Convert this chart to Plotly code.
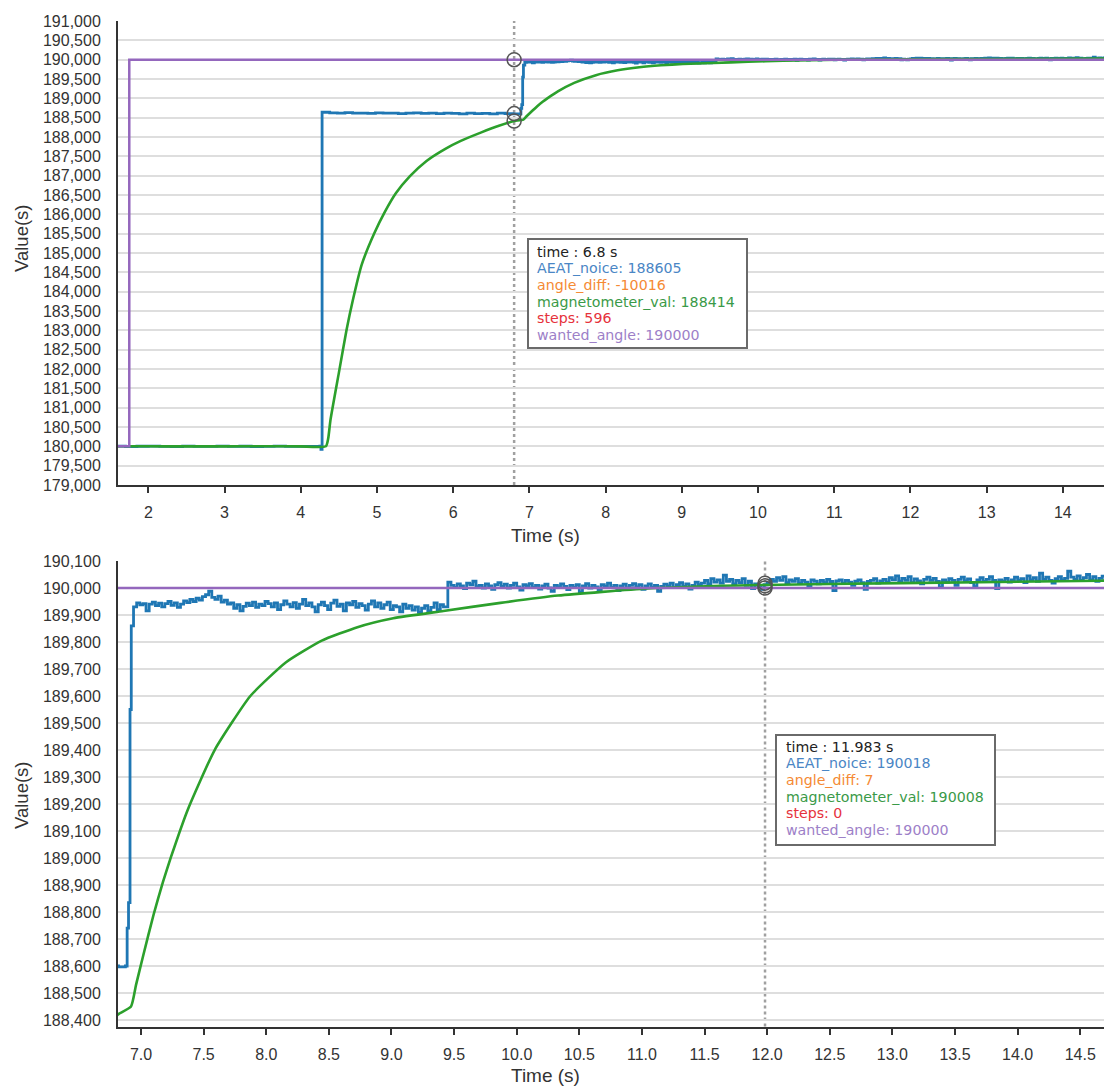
import numpy as np
import plotly.graph_objects as go

# ---------------- data ----------------
series_names = ["AEAT_noice", "angle_diff", "magnetometer_val", "steps", "wanted_angle"]

# wanted_angle (set-point step)
wanted_t = [1.55, 1.75, 14.80]
wanted_v = [180000, 190000, 190000]

# AEAT_noice (encoder reading) - segments
aeat_a_t = [1.55, 1.70, 1.85, 2.00, 2.15, 2.30, 2.45, 2.60, 2.75, 2.90, 3.05, 3.20,
            3.35, 3.50, 3.65, 3.80, 3.95, 4.10, 4.25, 4.265]
aeat_a_v = [180004, 179996, 180002, 180006, 179998, 179994, 180003, 180000, 179997,
            180005, 179999, 180002, 179995, 180001, 180004, 179998, 180000, 179996,
            180002, 179920]
aeat_b_t = [4.28, 4.38, 4.48, 4.58, 4.68, 4.78, 4.88, 4.98, 5.08, 5.18, 5.28, 5.38,
            5.48, 5.58, 5.68, 5.78, 5.88, 5.98, 6.08, 6.18, 6.28, 6.38, 6.48, 6.58,
            6.68, 6.78, 6.82, 6.875, 6.889, 6.900, 6.912, 6.922]
aeat_b_v = [188640, 188625, 188620, 188630, 188615, 188620, 188610, 188625, 188615,
            188620, 188605, 188615, 188625, 188610, 188615, 188605, 188620, 188610,
            188600, 188615, 188605, 188610, 188600, 188615, 188605, 188600, 188597,
            188600, 188740, 188835, 189550, 189860]
aeat_c_start, aeat_c_step = 6.94, 0.025
aeat_c_v = [189930, 189945, 189938, 189942, 189915, 189940, 189948, 189935, 189944, 189930,
            189942, 189950, 189936, 189945, 189928, 189940, 189952, 189946, 189958, 189950,
            189962, 189955, 189968, 189975, 189988, 189965, 189958, 189970, 189948, 189955,
            189940, 189945, 189925, 189938, 189915, 189932, 189944, 189935, 189948, 189928,
            189940, 189935, 189950, 189942, 189930, 189945, 189920, 189938, 189952, 189940,
            189930, 189946, 189925, 189940, 189958, 189935, 189945, 189930, 189912, 189938,
            189948, 189935, 189920, 189944, 189955, 189932, 189940, 189915, 189945, 189938,
            189950, 189928, 189942, 189935, 189918, 189940, 189952, 189930, 189945, 189925,
            189938, 189948, 189920, 189935, 189930, 189912, 189940, 189925, 189935, 189918,
            189930, 189910, 189925, 189935, 189915, 189928, 189945, 189920, 189938, 189930]
aeat_d_start, aeat_d_step = 9.45, 0.025
aeat_d_v = [190022, 190010, 190002, 190015, 190008, 189998, 190018, 190012, 190025, 190005,
            190010, 190000, 190015, 190008, 189995, 190012, 190020, 190006, 190014, 190000,
            190010, 190018, 190004, 189992, 190012, 190008, 190016, 190002, 190010, 189996,
            190008, 190014, 190000, 189988, 190010, 190004, 190015, 190006, 189994, 190010,
            190002, 190012, 189985, 190008, 190016, 190000, 190010, 190004, 189992, 190012,
            190006, 190018, 190002, 190010, 189990, 190008, 190014, 190000, 190010, 190016,
            190004, 190012, 189995, 190008, 190015, 190002, 190010, 189988, 190006, 190014,
            190008, 190018, 190002, 190012, 190020, 190006, 190015, 189996, 190010, 190022,
            190012, 190018, 190028, 190015, 190035, 190022, 190030, 190018, 190048, 190025,
            190032, 190015, 190028, 190020, 190035, 190010, 190025, 189998, 190015, 190008,
            189995, 190012, 190018, 190032, 190025, 190038, 190028, 190042, 190020, 190030,
            190025, 190035, 190018, 190028, 190022, 190005, 190030, 190025, 190015, 190028,
            190020, 190032, 190024, 189990, 190026, 190030, 190018, 190028, 190022, 190010,
            190025, 190030, 190020, 189995, 190024, 190028, 190035, 190018, 190026, 190032,
            190022, 190038, 190030, 190045, 190025, 190036, 190028, 190042, 190020, 190034,
            190026, 190015, 190032, 190040, 190028, 190036, 190024, 190002, 190030, 190022,
            190035, 190028, 190010, 190032, 190040, 190026, 190034, 190020, 190005, 190030,
            190038, 190024, 190032, 190042, 190028, 189998, 190030, 190025, 190036, 190022,
            190030, 190040, 190028, 190035, 190020, 190045, 190030, 190038, 190025, 190055,
            190032, 190040, 190028, 190018, 190035, 190042, 190030, 190036, 190062, 190040,
            190032, 190045, 190028, 190038, 190050, 190030, 190042, 190025, 190036, 190044,
            190030, 190038, 190034]

# magnetometer_val
magn_t = [1.55, 2.00, 2.50, 3.00, 3.50, 4.00, 4.33, 4.36, 4.39, 4.50, 4.60, 4.684,
          4.80, 4.965, 5.10, 5.25, 5.43, 5.65, 5.903, 6.10, 6.37, 6.60, 6.80, 6.82,
          6.92, 6.96, 7.018, 7.10, 7.174, 7.24, 7.374, 7.588, 7.873, 8.158, 8.443, 8.728,
          9.014, 9.414, 9.87, 10.33, 11.05, 11.92, 13.07, 14.67, 14.80]
magn_v = [180000, 180002, 179998, 180000, 180003, 179998, 180000, 180200, 180680,
          181900, 183000, 183785, 184700, 185510, 186050, 186550, 186980, 187380,
          187700, 187900, 188120, 188290, 188414, 188422, 188450, 188530, 188640,
          188790, 188910, 189005, 189180, 189400, 189600, 189725, 189805, 189855,
          189888, 189915, 189945, 189972, 189998, 190011, 190018, 190027, 190028]

# hover read-outs
cursor_top_time = 6.8
cursor_top_vals = [188605, -10016, 188414, 596, 190000]
cursor_bot_time = 11.983
cursor_bot_vals = [190018, 7, 190008, 0, 190000]

# axis settings
top_yticks = list(range(179000, 191001, 500))
bot_yticks = list(range(188400, 190101, 100))
top_xticks = list(range(2, 15))
bot_xticks = [7.0, 7.5, 8.0, 8.5, 9.0, 9.5, 10.0, 10.5, 11.0, 11.5, 12.0, 12.5, 13.0, 13.5, 14.0, 14.5]

# ---------------- build ----------------
aeat_t = (aeat_a_t + aeat_b_t
          + list(np.round(aeat_c_start + aeat_c_step * np.arange(len(aeat_c_v)), 4))
          + list(np.round(aeat_d_start + aeat_d_step * np.arange(len(aeat_d_v)), 4)))
aeat_v = aeat_a_v + aeat_b_v + aeat_c_v + aeat_d_v

W, H = 1104, 1086
def px(x):
    return x / W
def py(y):
    return 1 - y / H

BLUE = "#1f77b4"
GREEN = "#2ca02c"
PURPLE = "#9467bd"
txt_colors = ["#4a86c5", "#f58a34", "#3a9a48", "#e6323c", "#9d80c8"]
FONT = "Liberation Sans, Arial, sans-serif"
TIPFONT = "DejaVu Sans, sans-serif"

fig = go.Figure()
for xa, ya in (("x", "y"), ("x2", "y2")):
    fig.add_trace(go.Scatter(x=aeat_t, y=aeat_v, mode="lines", line=dict(color=BLUE, width=2.8, shape="hv"),
                             name=series_names[0], xaxis=xa, yaxis=ya, showlegend=False))
    fig.add_trace(go.Scatter(x=magn_t, y=magn_v, mode="lines", line=dict(color=GREEN, width=2.6, shape="spline", smoothing=0.5),
                             name=series_names[2], xaxis=xa, yaxis=ya, showlegend=False))
    fig.add_trace(go.Scatter(x=wanted_t, y=wanted_v, mode="lines", line=dict(color=PURPLE, width=2.5, shape="hv"),
                             name=series_names[4], xaxis=xa, yaxis=ya, showlegend=False))

# hover circles
sel = [0, 2, 4]
fig.add_trace(go.Scatter(x=[cursor_top_time] * 3, y=[cursor_top_vals[i] for i in sel], mode="markers",
                         marker=dict(symbol="circle-open", size=14, color="#555", line=dict(width=1.5)),
                         xaxis="x", yaxis="y", showlegend=False))
fig.add_trace(go.Scatter(x=[cursor_bot_time] * 3, y=[cursor_bot_vals[i] for i in sel], mode="markers",
                         marker=dict(symbol="circle-open", size=14, color="#555", line=dict(width=1.5)),
                         xaxis="x2", yaxis="y2", showlegend=False))

# cursor lines
shapes = [
    dict(type="line", xref="x", yref="y domain", x0=cursor_top_time, x1=cursor_top_time, y0=0, y1=1,
         line=dict(color="#a0a0a0", width=2.5, dash="3px,3px"), layer="below"),
    dict(type="line", xref="x2", yref="y2 domain", x0=cursor_bot_time, x1=cursor_bot_time, y0=0, y1=1,
         line=dict(color="#a0a0a0", width=2.5, dash="3px,3px"), layer="below"),
]

annotations = []
def tooltip(box, text_x, line_ys, time_val, vals):
    x0, x1, y0, y1 = box
    shapes.append(dict(type="rect", xref="paper", yref="paper", x0=px(x0), x1=px(x1), y0=py(y1), y1=py(y0),
                       line=dict(color="#6a6a6a", width=2), fillcolor="white", layer="above"))
    lines = [("time : %s s" % time_val, "#222")] + [("%s: %s" % (n, v), c) for n, v, c in zip(series_names, vals, txt_colors)]
    for (t, c), yy in zip(lines, line_ys):
        annotations.append(dict(xref="paper", yref="paper", x=px(text_x), y=py(yy), xanchor="left", yanchor="middle",
                                text=t, showarrow=False, font=dict(family=TIPFONT, size=14.2, color=c)))

tooltip((528, 747, 239, 348), 535, [251.7, 268.3, 285, 301.5, 318, 334.5], "6.8", cursor_top_vals)
tooltip((776, 995, 735, 845), 784, [746.5, 763.2, 780, 796.8, 813.5, 830.2], "11.983", cursor_bot_vals)

# axis titles
for yy in (238, 795):
    annotations.append(dict(xref="paper", yref="paper", x=px(21), y=py(yy), text="Value(s)", textangle=-90,
                            showarrow=False, xanchor="center", yanchor="middle",
                            font=dict(family=FONT, size=18.5, color="#333")))
for yy in (535, 1075):
    annotations.append(dict(xref="paper", yref="paper", x=px(545), y=py(yy), text="Time (s)",
                            showarrow=False, xanchor="center", yanchor="middle",
                            font=dict(family=FONT, size=19, color="#333")))

xcommon = dict(showgrid=False, zeroline=False, showline=True, linecolor="#333", linewidth=2,
               ticks="outside", ticklen=6, tickwidth=1.5, tickcolor="#333", automargin=False,
               tickfont=dict(family=FONT, size=16, color="#333"), ticklabelstandoff=6)
ycommon = dict(showgrid=True, gridcolor="#dedede", gridwidth=1.5, zeroline=False, showline=True,
               linecolor="#333", linewidth=2, ticks="", tickformat=",d", automargin=False,
               tickfont=dict(family=FONT, size=16, color="#333"), ticklabelstandoff=12)

fig.update_layout(
    width=W, height=H, autosize=False,
    margin=dict(l=0, r=0, t=0, b=0, pad=0),
    paper_bgcolor="white", plot_bgcolor="white",
    showlegend=False,
    xaxis=dict(domain=[px(118), 1], anchor="y", range=[1.602, 14.54], tickvals=top_xticks, **xcommon),
    yaxis=dict(domain=[py(485), py(21)], anchor="x", range=[179000, 191000], tickvals=top_yticks, **ycommon),
    xaxis2=dict(domain=[px(118), 1], anchor="y2", range=[6.816, 14.69], tickvals=bot_xticks,
                tickformat=".1f", **xcommon),
    yaxis2=dict(domain=[py(1026.5), py(561)], anchor="x2", range=[188376, 190100], tickvals=bot_yticks, **ycommon),
    shapes=shapes, annotations=annotations,
)

fig.write_html("out.html", config={"displayModeBar": False},
               post_script="document.body.style.margin='0';document.body.style.padding='0';"
                           "document.body.style.overflow='hidden';")
